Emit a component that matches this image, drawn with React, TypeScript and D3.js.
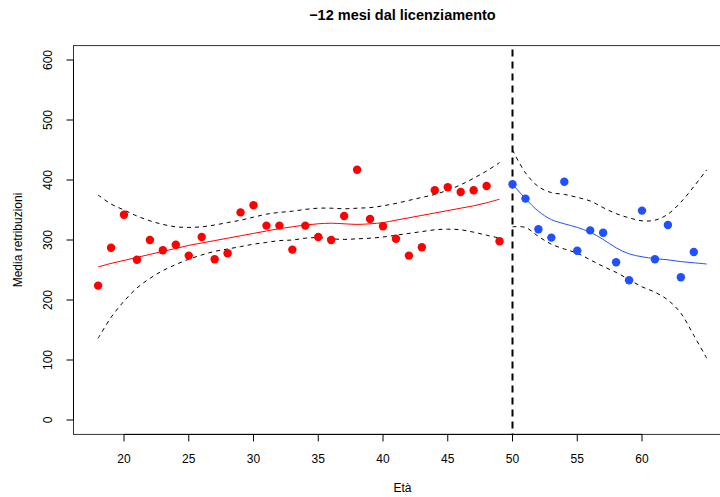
import React from "react";
import * as d3 from "d3";

const title = "−12 mesi dal licenziamento";
const xLabel = "Età";
const yLabel = "Media retribuzioni";
const xTicks = [20, 25, 30, 35, 40, 45, 50, 55, 60];
const yTicks = [0, 100, 200, 300, 400, 500, 600];
const cutoff = 50;

// Observed points
const redAges = [18, 19, 20, 21, 22, 23, 24, 25, 26, 27, 28, 29, 30, 31, 32, 33, 34, 35, 36, 37, 38, 39, 40, 41, 42, 43, 44, 45, 46, 47, 48, 49];
const redValues = [224, 287, 342, 267, 300, 283, 292, 274, 305, 268, 278, 346, 358, 324, 324, 284, 324, 305, 300, 340, 417, 335, 323, 302, 274, 288, 383, 388, 380, 383, 390, 298];
const blueAges = [50, 51, 52, 53, 54, 55, 56, 57, 58, 59, 60, 61, 62, 63, 64];
const blueValues = [393, 369, 318, 304, 397, 282, 316, 312, 263, 233, 349, 268, 325, 238, 280];

// Fitted curves and bands (left of cutoff)
const redFitAges = [18, 19, 20, 21, 22, 23, 24, 25, 26, 27, 28, 29, 30, 31, 32, 33, 34, 35, 36, 37, 38, 39, 40, 41, 42, 43, 44, 45, 46, 47, 48, 49];
const redFit = [255, 261, 266, 271, 276, 281, 286, 291, 295, 299, 303, 307, 311, 315, 319, 322, 325, 327, 328, 327, 326, 327, 329, 333, 337, 341, 345, 349, 353, 357, 362, 368];
const redUpper = [375, 360, 350, 340, 332, 326, 322, 321, 322, 325, 329, 333, 338, 343, 346, 348, 351, 353, 353, 352, 353, 354, 357, 361, 366, 371, 376, 383, 392, 403, 415, 429];
const redLower = [136, 171, 198, 220, 236, 249, 259, 268, 275, 281, 285, 289, 293, 296, 299, 300, 303, 304, 302, 301, 302, 303, 305, 308, 311, 314, 317, 318, 317, 313, 308, 303];

// Fitted curves and bands (right of cutoff)
const blueFitAges = [50, 51, 52, 53, 54, 55, 56, 57, 58, 59, 60, 61, 62, 63, 64, 65];
const blueFit = [393, 369, 348, 334, 327, 321, 313, 301, 287, 277, 272, 269, 267, 264, 262, 260];
const blueUpper = [450, 412, 389, 379, 376, 371, 365, 354, 344, 337, 332, 333, 343, 363, 389, 417];
const blueLower = [322, 321, 306, 293, 285, 278, 267, 256, 246, 234, 222, 213, 200, 178, 141, 103];

const W = 720;
const H = 497;
const FONT = "'Liberation Sans', Arial, Helvetica, sans-serif";

export default function App() {
  const x = d3.scaleLinear().domain([20, 60]).range([124, 642]);
  const y = d3.scaleLinear().domain([0, 600]).range([420, 60]);

  const boxL = x(16.1);
  const boxR = x(66.9);
  const boxT = y(624);
  const boxB = y(-24);

  const line = (ages: number[], vals: number[]) =>
    d3
      .line<number>()
      .x((_, i) => x(ages[i]))
      .y((v) => y(v))
      .curve(d3.curveCatmullRom.alpha(0.5))(vals) || "";

  return (
    <svg width={W} height={H} style={{ position: "absolute", left: 0, top: 0, background: "#fff" }} fontFamily={FONT}>
      <rect x={0} y={0} width={W} height={H} fill="#fff" />
      <text x={(boxL + boxR) / 2} y={20} textAnchor="middle" fontWeight="bold" fontSize={14.5} fill="#000">
        {title}
      </text>

      {/* box */}
      <rect x={boxL} y={boxT} width={boxR - boxL} height={boxB - boxT} fill="none" stroke="#333" strokeWidth={1} />

      {/* x axis */}
      <line x1={x(20)} x2={x(60)} y1={boxB} y2={boxB} stroke="#000" />
      {xTicks.map((t) => (
        <g key={"xt" + t}>
          <line x1={x(t)} x2={x(t)} y1={boxB} y2={boxB + 7} stroke="#000" />
          <text x={x(t)} y={463} textAnchor="middle" fontSize={12} fill="#000">
            {t}
          </text>
        </g>
      ))}
      <text x={(boxL + boxR) / 2} y={492} textAnchor="middle" fontSize={12} fill="#000">
        {xLabel}
      </text>

      {/* y axis */}
      <line x1={boxL} x2={boxL} y1={y(0)} y2={y(600)} stroke="#000" />
      {yTicks.map((t) => (
        <g key={"yt" + t}>
          <line x1={boxL} x2={boxL - 7} y1={y(t)} y2={y(t)} stroke="#000" />
          <text
            transform={`translate(52,${y(t)}) rotate(-90)`}
            textAnchor="middle"
            fontSize={12}
            fill="#000"
          >
            {t}
          </text>
        </g>
      ))}
      <text transform={`translate(22,${(boxT + boxB) / 2}) rotate(-90)`} textAnchor="middle" fontSize={12} fill="#000">
        {yLabel}
      </text>

      {/* cutoff */}
      <line x1={x(cutoff)} x2={x(cutoff)} y1={boxT + 4} y2={boxB} stroke="#000" strokeWidth={2} strokeDasharray="7,5" />

      {/* bands */}
      <path d={line(redFitAges, redUpper)} fill="none" stroke="#000" strokeDasharray="4,4" />
      <path d={line(redFitAges, redLower)} fill="none" stroke="#000" strokeDasharray="4,4" />
      <path d={line(blueFitAges, blueUpper)} fill="none" stroke="#000" strokeDasharray="4,4" />
      <path d={line(blueFitAges, blueLower)} fill="none" stroke="#000" strokeDasharray="4,4" />

      {/* fits */}
      <path d={line(redFitAges, redFit)} fill="none" stroke="#ff0000" strokeWidth={1} />
      <path d={line(blueFitAges, blueFit)} fill="none" stroke="#2050ff" strokeWidth={1} />

      {/* points */}
      {redAges.map((a, i) => (
        <circle key={"r" + a} cx={x(a)} cy={y(redValues[i])} r={4.2} fill="#ff0000" />
      ))}
      {blueAges.map((a, i) => (
        <circle key={"b" + a} cx={x(a)} cy={y(blueValues[i])} r={4.2} fill="#2050ff" />
      ))}
    </svg>
  );
}
